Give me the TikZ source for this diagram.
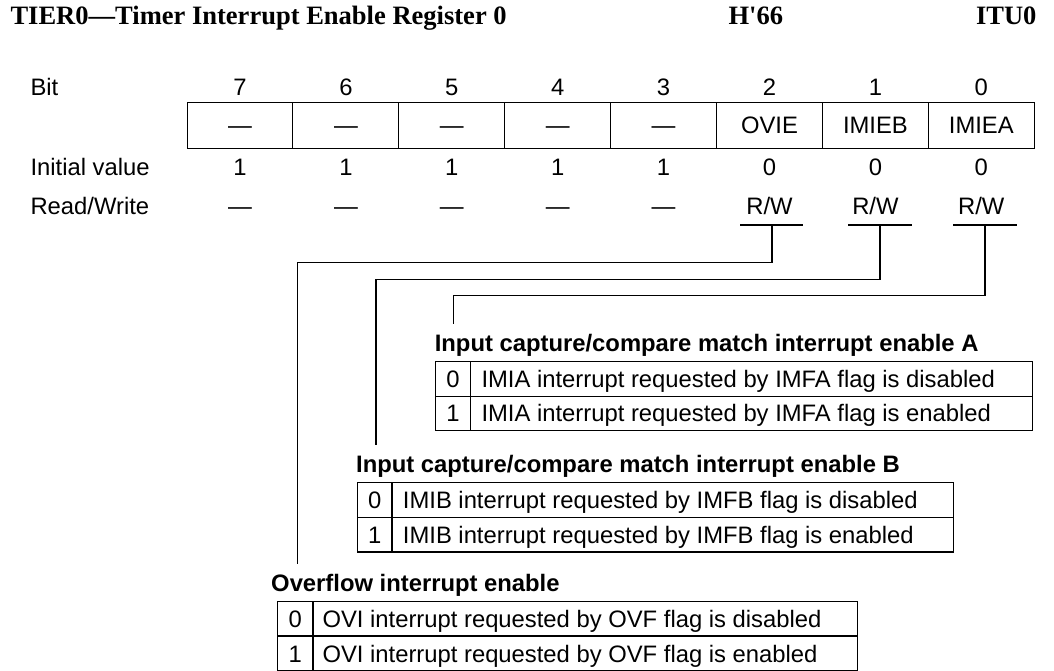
\documentclass[tikz,border=0pt]{standalone}
\usepackage{fontspec}
\setmainfont{Liberation Sans}
\newfontfamily\titlefont{Liberation Serif}

\begin{document}
\begin{tikzpicture}[x=0.02cm, y=-0.02cm, line width=0.6pt,
  body/.style={inner sep=0pt, font=\fontsize{13.55}{16}\selectfont},
  head/.style={inner sep=0pt, anchor=base west, font=\fontsize{13.55}{16}\selectfont\bfseries},
  ttl/.style={inner sep=0pt, anchor=base west, font=\titlefont\fontsize{15.1}{18}\selectfont\bfseries},
  cell/.style={draw, inner sep=0pt, minimum width=2.118cm, minimum height=0.92cm, text height=9.7pt, text depth=0pt, font=\fontsize{13.55}{16}\selectfont}]
\useasboundingbox (0,0) rectangle (1054,671);

% title line
\node[ttl] (title) at (10,25) {TIER0—Timer Interrupt Enable Register 0};
\node[ttl] (addr) at (728,25) {H'66};
\node[ttl, anchor=base east] (unit) at (1037,25) {ITU0};

% register rows
\node[body, anchor=base west] (bitlbl) at (30,95.5) {Bit};
\node[body, anchor=base west] (initlbl) at (30,175.5) {Initial value};
\node[body, anchor=base west] (rwlbl) at (30,215) {Read/Write};
\foreach \n/\f/\v/\a [count=\i from 0] in {7/—/1/—, 6/—/1/—, 5/—/1/—, 4/—/1/—, 3/—/1/—, 2/OVIE/0/{R/W}, 1/IMIEB/0/{R/W}, 0/IMIEA/0/{R/W}} {
  \node[body, anchor=base] (bit\n) at (240+\i*105.9,95.5) {\n};
  \node[cell] (fld\n) at (240+\i*105.9,125.3) {\f};
  \node[body, anchor=base] (init\n) at (240+\i*105.9,175.5) {\v};
  \node[body, anchor=base] (rw\n) at (240+\i*105.9,215) {\a};
}

% leaders from R/W down to the descriptions
\coordinate (d2) at (772,225);
\coordinate (d1) at (880,225);
\coordinate (d0) at (985,225);
\draw ([xshift=-0.64cm]d2) -- ([xshift=0.62cm]d2);
\draw ([xshift=-0.64cm]d1) -- ([xshift=0.64cm]d1);
\draw ([xshift=-0.64cm]d0) -- ([xshift=0.64cm]d0);
\coordinate (k2) at (297.3,262.7);
\coordinate (e2) at (297.3,564);
\coordinate (k1) at (376,279.5);
\coordinate (e1) at (376,445);
\coordinate (k0) at (453.3,295.5);
\coordinate (e0) at (453.3,324);
\draw (d2) |- (k2) -- (e2);
\draw (d1) |- (k1) -- (e1);
\draw (d0) |- (k0) -- (e0);

% bit 0
\node[head] (lblA) at (434.3,351.2) {Input capture/compare match interrupt enable A};
\draw (435.3,361.7) rectangle (1032.3,430.7);
\draw (435.3,396.2) -- (1032.3,396.2);
\draw (470.7,361.7) -- (470.7,430.7);
\node[body, anchor=base] (a0) at (453,387.5) {0};
\node[body, anchor=base west] (a0t) at (481,387.5) {IMIA interrupt requested by IMFA flag is disabled};
\node[body, anchor=base] (a1) at (453,422) {1};
\node[body, anchor=base west] (a1t) at (481,422) {IMIA interrupt requested by IMFA flag is enabled};

% bit 1
\node[head] (lblB) at (355.6,472.5) {Input capture/compare match interrupt enable B};
\draw (357.3,482.7) rectangle (953.3,552);
\draw (357.3,517.3) -- (953.3,517.3);
\draw (392,482.7) -- (392,552);
\node[body, anchor=base] (b0) at (374.7,508.5) {0};
\node[body, anchor=base west] (b0t) at (402.4,508.5) {IMIB interrupt requested by IMFB flag is disabled};
\node[body, anchor=base] (b1) at (374.7,543) {1};
\node[body, anchor=base west] (b1t) at (402.4,543) {IMIB interrupt requested by IMFB flag is enabled};

% bit 2
\node[head] (lblO) at (270.7,591) {Overflow interrupt enable};
\draw (277.5,601.7) rectangle (857.3,670.4);
\draw (277.5,636) -- (857.3,636);
\draw (313,601.7) -- (313,670.4);
\node[body, anchor=base] (o0) at (295.3,627.5) {0};
\node[body, anchor=base west] (o0t) at (322,627.5) {OVI interrupt requested by OVF flag is disabled};
\node[body, anchor=base] (o1) at (295.3,662) {1};
\node[body, anchor=base west] (o1t) at (322,662) {OVI interrupt requested by OVF flag is enabled};
\end{tikzpicture}
\end{document}
